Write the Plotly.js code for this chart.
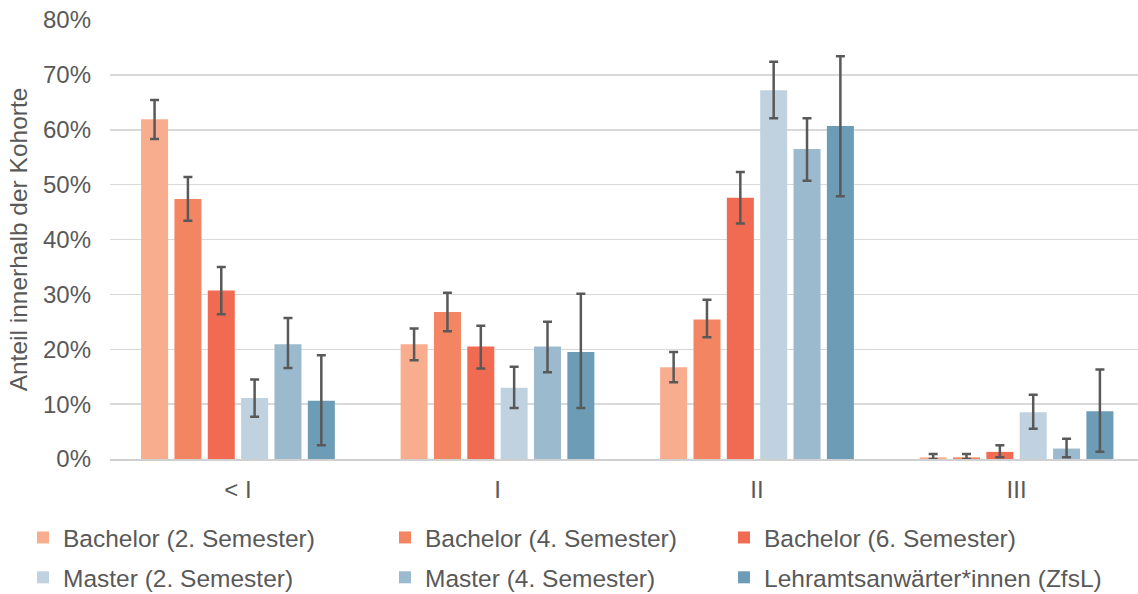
<!DOCTYPE html>
<html>
<head>
<meta charset="utf-8">
<script src="https://cdn.plot.ly/plotly-3.0.1.min.js"></script>
<style>html,body{margin:0;padding:0;background:#fff;}#chart{width:1138px;height:594px;}</style>
</head>
<body>
<div id="chart"></div>
<script>
const categories = ['< I', 'I', 'II', 'III'];
const seriesNames = ['Bachelor (2. Semester)', 'Bachelor (4. Semester)', 'Bachelor (6. Semester)',
                     'Master (2. Semester)', 'Master (4. Semester)', 'Lehramtsanwärter*innen (ZfsL)'];

// values in %
const bachelor2 = [61.9, 20.9, 16.7, 0.3];
const bachelor4 = [47.4, 26.8, 25.4, 0.3];
const bachelor6 = [30.7, 20.5, 47.6, 1.3];
const master2   = [11.1, 13.0, 67.2, 8.5];
const master4   = [20.9, 20.5, 56.5, 1.9];
const zfsl      = [10.6, 19.5, 60.7, 8.7];

// confidence interval bounds in %
const bachelor2Low  = [58.3, 18.0, 14.0, 0.0];
const bachelor2High = [65.4, 23.8, 19.5, 0.9];
const bachelor4Low  = [43.4, 23.3, 22.2, 0.0];
const bachelor4High = [51.4, 30.3, 29.0, 0.9];
const bachelor6Low  = [26.4, 16.5, 42.9, 0.3];
const bachelor6High = [35.0, 24.3, 52.3, 2.5];
const master2Low    = [7.7, 9.3, 62.1, 5.5];
const master2High   = [14.5, 16.8, 72.4, 11.7];
const master4Low    = [16.6, 15.8, 50.7, 0.3];
const master4High   = [25.7, 25.0, 62.1, 3.7];
const zfslLow       = [2.5, 9.3, 47.9, 1.3];
const zfslHigh      = [18.9, 30.1, 73.4, 16.3];

const yTickVals = [0, 10, 20, 30, 40, 50, 60, 70, 80];
const yTickText = ['0%', '10%', '20%', '30%', '40%', '50%', '60%', '70%', '80%'];

const colors = ['#F9AD8F', '#F38562', '#F16B53', '#C0D2E0', '#9BBACD', '#6C9CB6'];
const values = [bachelor2, bachelor4, bachelor6, master2, master4, zfsl];
const lows = [bachelor2Low, bachelor4Low, bachelor6Low, master2Low, master4Low, zfslLow];
const highs = [bachelor2High, bachelor4High, bachelor6High, master2High, master4High, zfslHigh];
const legendIds = ['legend', 'legend2', 'legend3', 'legend', 'legend2', 'legend3'];

const traces = values.map((v, i) => ({
  type: 'bar',
  name: seriesNames[i],
  x: categories,
  y: v,
  marker: {color: colors[i]},
  legend: legendIds[i],
  legendgroup: 'g' + i,
  error_y: {
    type: 'data', symmetric: false,
    array: v.map((val, k) => highs[i][k] - val),
    arrayminus: v.map((val, k) => val - lows[i][k]),
    color: '#595959', thickness: 2.5, width: 4.5
  },
  hoverinfo: 'skip'
}));

const fontFam = '"Liberation Sans", Arial, sans-serif';
const legendBase = {
  orientation: 'v', xref: 'paper', yref: 'paper', xanchor: 'left', yanchor: 'top',
  y: -0.1276, font: {family: fontFam, size: 24.5, color: '#595959'},
  bgcolor: 'rgba(0,0,0,0)', tracegroupgap: 5, traceorder: 'grouped', itemclick: false
};

// plot area: x 110..1138 (1028 px), y 20..459
const pw = 1028;
const layout = {
  width: 1138, height: 594,
  margin: {l: 110, r: 0, t: 20, b: 135, autoexpand: false},
  paper_bgcolor: '#fff', plot_bgcolor: '#fff',
  barmode: 'group', bargap: 0.229, bargroupgap: 0.19,
  font: {family: fontFam, color: '#595959'},
  showlegend: true,
  legend: Object.assign({}, legendBase, {x: (23 - 110) / pw}),
  legend2: Object.assign({}, legendBase, {x: (385 - 110) / pw}),
  legend3: Object.assign({}, legendBase, {x: (724 - 110) / pw}),
  xaxis: {
    type: 'category', range: [-0.493, 3.468], showgrid: false, showline: true, linecolor: '#d0d0d0', linewidth: 2,
    ticks: '', tickfont: {family: fontFam, size: 24, color: '#595959'}, ticklabelstandoff: 8,
    automargin: false
  },
  yaxis: {
    range: [0, 80], tickvals: yTickVals, ticktext: yTickText,
    showgrid: true, gridcolor: '#d9d9d9', gridwidth: 1.5, zeroline: false, showline: false,
    ticks: '', tickfont: {family: fontFam, size: 24, color: '#595959'}, ticklabelstandoff: 18,
    title: {text: 'Anteil innerhalb der Kohorte', font: {family: fontFam, size: 24.5, color: '#595959'}, standoff: 8},
    automargin: false
  }
};

Plotly.newPlot('chart', traces, layout, {displayModeBar: false, staticPlot: true});
</script>
</body>
</html>
